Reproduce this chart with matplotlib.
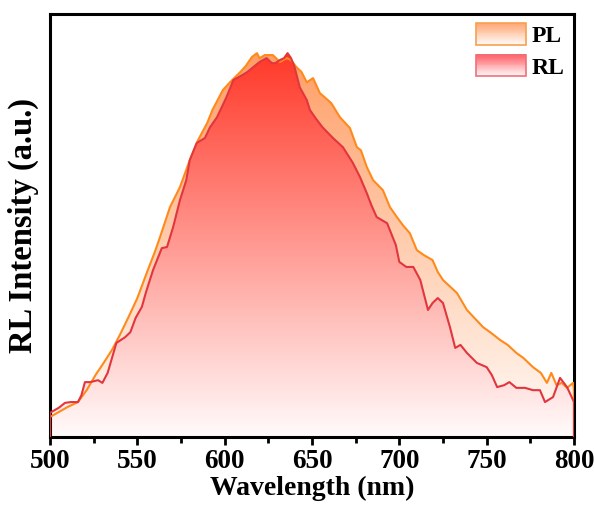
import numpy as np
import matplotlib
matplotlib.use("Agg")
import matplotlib.pyplot as plt
from matplotlib.patches import Rectangle, Patch
from matplotlib.legend_handler import HandlerBase
from matplotlib.ticker import MultipleLocator

plt.rcParams['font.family'] = ['Liberation Serif', 'DejaVu Serif']
plt.rcParams['font.weight'] = 'bold'

# ---------------- data ----------------
pl_wl = [500, 505, 510, 516, 521, 526, 531, 535.5, 540, 545, 550, 556, 560, 563,
         568.7, 574.4, 580, 584.7, 590, 593, 599, 603, 609, 612, 615.6, 618.5, 620,
         623, 627.6, 631.6, 635.6, 638, 641, 644, 647, 650.6, 654.5, 661, 666, 671.7,
         675.7, 678, 681.4, 685, 690.6, 694.6, 698.6, 702, 706, 710, 714, 719, 722,
         725, 733, 738.7, 743, 748, 752, 757.6, 762, 767, 771, 776.5, 781, 784.5,
         787, 790, 793, 796, 799.5, 800]
pl_int = [5.2, 6.5, 7.8, 9.1, 12.2, 16.1, 19.5, 22.7, 26.6, 31.3, 36.2, 43.5, 48.2, 52.1,
          59.9, 65.1, 72.1, 77.3, 81.8, 85.2, 90.4, 92.4, 95.1, 96.6, 99.0, 100.0, 98.7,
          99.5, 99.5, 97.7, 98.7, 98.2, 96.4, 95.1, 92.4, 93.5, 89.6, 87.0, 83.3, 80.5,
          75.5, 74.7, 70.3, 66.9, 64.3, 59.9, 57.3, 55.2, 53.1, 48.7, 47.4, 46.1, 43.0,
          40.9, 37.5, 33.1, 31.0, 28.6, 27.3, 25.3, 24.0, 21.9, 20.6, 18.2, 16.7, 14.1,
          16.7, 13.5, 14.1, 12.8, 14.1, 12.2]

rl_wl = [500, 505, 508.6, 512, 516, 518, 520, 523, 527.5, 530, 533, 538, 543, 546, 549,
         552.6, 555, 559, 564, 567, 570.5, 574.4, 578, 580, 584, 588.7, 591.6, 595.6,
         601, 605, 609, 613, 617, 620, 624, 627, 629, 631.6, 634, 636, 638, 640, 643,
         647, 648.8, 652, 656, 662, 667.7, 673.4, 677.5, 681.4, 684, 687, 690, 693,
         698, 700, 704, 708, 712, 716.4, 719, 722, 725, 729, 732, 735, 738.7, 744.4,
         750, 753, 756, 760, 763, 767, 772, 776.5, 780.5, 783.4, 788, 792, 796, 799.5, 800]
rl_int = [6.3, 7.6, 8.9, 9.1, 9.1, 10.9, 14.3, 14.3, 14.8, 14.1, 16.7, 24.5, 26.0, 27.3, 31.0,
          33.9, 37.8, 43.5, 49.2, 49.5, 54.7, 61.7, 66.9, 72.1, 76.6, 77.9, 80.7, 83.3,
          88.5, 93.0, 94.0, 95.1, 96.6, 97.7, 98.7, 97.4, 97.4, 98.2, 98.7, 100.0, 98.7, 96.4, 91.1,
          87.8, 85.2, 83.1, 80.7, 77.9, 75.5, 71.4, 67.7, 63.5, 60.4, 57.3, 56.5, 55.7,
          50.0, 45.6, 44.3, 44.3, 40.9, 33.1, 34.9, 36.2, 34.9, 28.6, 23.2, 24.0, 21.9, 19.3,
          18.2, 16.1, 13.0, 13.5, 14.3, 12.8, 12.8, 12.2, 12.2, 9.1, 10.4, 15.4, 13.0, 9.6, 9.1]

labels = ['PL', 'RL']
xticks = [500, 550, 600, 650, 700, 750, 800]

# ---------------- style ----------------
pl_line = '#ff8a1c'
rl_line = '#e2363f'
pl_top, pl_bot = np.array([1.0, 0.62, 0.40]), np.array([1.0, 0.99, 0.98])
rl_top, rl_bot = np.array([1.0, 0.22, 0.16]), np.array([1.0, 0.985, 0.985])

fig = plt.figure(figsize=(5.94, 5.07), dpi=100)
ax = fig.add_axes([50/594, 1-437/507, 524/594, 423/507])

YMAX = 110.2


def grad_fill(x, y, top, bot, z):
    x = np.asarray(x, float); y = np.asarray(y, float)
    px = np.r_[x[0], x, x[-1]]
    py = np.r_[0, y, 0]
    poly, = ax.fill(px, py, facecolor='none', edgecolor='none', zorder=z)
    t = np.linspace(0, 1, 256)[:, None, None]
    img = bot[None, None, :] * (1 - t) + top[None, None, :] * t
    im = ax.imshow(img, extent=[500, 800, 0, max(y)], origin='lower',
                   aspect='auto', zorder=z, interpolation='bilinear')
    im.set_clip_path(poly)


grad_fill(pl_wl, pl_int, pl_top, pl_bot, 1)
grad_fill(rl_wl, rl_int, rl_top, rl_bot, 2)
ax.plot(np.r_[pl_wl[0], pl_wl, pl_wl[-1]], np.r_[0, pl_int, 0], color=pl_line, lw=1.5, zorder=3)
ax.plot(np.r_[rl_wl[0], rl_wl, rl_wl[-1]], np.r_[0, rl_int, 0], color=rl_line, lw=1.5, zorder=4)

ax.set_xlim(500, 800)
ax.set_ylim(0, YMAX)
ax.set_xticks(xticks)
ax.xaxis.set_minor_locator(MultipleLocator(25))
ax.set_yticks([])
ax.tick_params(axis='x', which='major', direction='out', length=6, width=2,
               labelsize=19.5, pad=3)
ax.tick_params(axis='x', which='minor', direction='out', length=4, width=2)
for lab in ax.get_xticklabels():
    lab.set_fontweight('bold')
for s in ax.spines.values():
    s.set_linewidth(2.2)

ax.set_xlabel('Wavelength (nm)', fontsize=20, fontweight='bold', labelpad=1)
ax.set_ylabel('RL Intensity (a.u.)', fontsize=23.5, fontweight='bold', labelpad=8)


class GradHandler(HandlerBase):
    def __init__(self, top, bot, edge):
        super().__init__()
        self.top, self.bot, self.edge = top, bot, edge

    def create_artists(self, legend, orig_handle, xdescent, ydescent, width,
                       height, fontsize, trans):
        arts = []
        n = 24
        for i in range(n):
            t = (i + 0.5) / n
            c = self.bot * (1 - t) + self.top * t
            arts.append(Rectangle((-xdescent, -ydescent + i * height / n), width,
                                  height / n + 0.3, facecolor=c, edgecolor='none',
                                  transform=trans))
        arts.append(Rectangle((-xdescent, -ydescent), width, height, facecolor='none',
                              edgecolor=self.edge, lw=1.2, transform=trans))
        return arts


h_pl = Patch(label=labels[0])
h_rl = Patch(label=labels[1])
leg = ax.legend(handles=[h_pl, h_rl], loc='upper right', frameon=False,
                prop={'weight': 'bold', 'size': 17},
                handlelength=2.1, handleheight=1.05, handletextpad=0.25,
                labelspacing=0.3, borderaxespad=0.1, borderpad=0.3,
                handler_map={h_pl: GradHandler(np.array([1.0, 0.65, 0.45]), np.array([1, 1, 1.0]), '#f7a050'),
                             h_rl: GradHandler(np.array([1.0, 0.35, 0.38]), np.array([1, 1, 1.0]), '#f07078')})
leg.set_zorder(10)

fig.savefig('out.png', dpi=100)
